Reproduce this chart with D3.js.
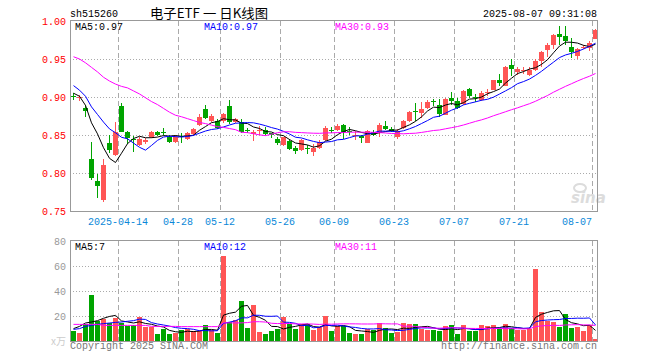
<!DOCTYPE html>
<html><head><meta charset="utf-8">
<script src="https://cdn.jsdelivr.net/npm/d3@7/dist/d3.min.js"></script>
<style>
html,body{margin:0;padding:0;background:#fff;}
svg{display:block;}
text{font-family:"Liberation Mono",monospace;}
</style></head>
<body>
<svg id="c" width="660" height="360"></svg>
<script>
// ---------- DATA ----------
const code = "sh515260";
const title = "电子ETF 一 日K线图";
const stamp = "2025-08-07 09:31:08";
const dates = ["04-01","04-02","04-03","04-07","04-08","04-09","04-10","04-11","04-14","04-15","04-16","04-17","04-18","04-21","04-22","04-23","04-24","04-25","04-28","04-29","04-30",
"05-06","05-07","05-08","05-09","05-12","05-13","05-14","05-15","05-16","05-19","05-20","05-21","05-22","05-23","05-26","05-27","05-28","05-29","05-30",
"06-03","06-04","06-05","06-06","06-09","06-10","06-11","06-12","06-13","06-16","06-17","06-18","06-19","06-20","06-23","06-24","06-25","06-26","06-27","06-30",
"07-01","07-02","07-03","07-04","07-07","07-08","07-09","07-10","07-11","07-14","07-15","07-16","07-17","07-18","07-21","07-22","07-23","07-24","07-25","07-28","07-29","07-30","07-31",
"08-01","08-04","08-05","08-06","08-07"];
const open  = [0.9012,0.8985,0.8850,0.8190,0.7900,0.7650,0.8395,0.8240,0.8888,0.8545,0.8442,0.8373,0.8412,0.8470,0.8544,0.8542,0.8480,0.8410,0.8492,0.8447,0.8510,0.8630,0.8840,0.8690,0.8690,0.8690,0.8886,0.8670,0.8667,0.8572,
0.8518,0.8568,0.8570,0.8526,0.8452,0.8373,0.8425,0.8330,0.8307,0.8332,0.8270,0.8330,0.8430,0.8572,0.8570,0.8636,0.8552,0.8502,0.8482,0.8395,0.8535,0.8526,0.8623,0.8580,0.8474,
0.8592,0.8680,0.8812,0.8790,0.8855,0.8950,0.8900,0.8768,0.8982,0.8943,0.8912,0.9105,0.9002,0.8965,0.9064,0.9096,0.9220,0.9150,0.9417,0.9330,0.9348,0.9294,0.9360,0.9470,0.9623,0.9680,
0.9825,0.9800,0.9660,0.9540,0.9658,0.9645,0.9768];
const close = [0.9008,0.9000,0.8810,0.7930,0.7825,0.8100,0.8300,0.8535,0.8540,0.8455,0.8438,0.8447,0.8439,0.8544,0.8496,0.8538,0.8410,0.8480,0.8488,0.8526,0.8580,0.8737,0.8724,0.8746,0.8596,0.8770,0.8670,0.8710,0.8535,0.8568,
0.8544,0.8572,0.8513,0.8500,0.8395,0.8474,0.8320,0.8285,0.8439,0.8328,0.8330,0.8408,0.8592,0.8568,0.8623,0.8535,0.8548,0.8506,0.8456,0.8548,0.8504,0.8636,0.8580,0.8548,0.8555,
0.8680,0.8807,0.8808,0.8842,0.8940,0.8935,0.8780,0.8974,0.8943,0.8855,0.9075,0.9017,0.8998,0.9053,0.9068,0.9220,0.9184,0.9390,0.9373,0.9373,0.9352,0.9350,0.9478,0.9592,0.9680,0.9811,
0.9790,0.9732,0.9588,0.9627,0.9662,0.9710,0.9886];
const high  = [0.9050,0.9020,0.8890,0.8410,0.7990,0.8180,0.8505,0.8665,0.8915,0.8555,0.8490,0.8470,0.8455,0.8550,0.8553,0.8590,0.8500,0.8500,0.8520,0.8545,0.8596,0.8770,0.8890,0.8770,0.8708,0.8790,0.8956,0.8725,0.8710,0.8595,
0.8560,0.8614,0.8600,0.8530,0.8480,0.8480,0.8447,0.8352,0.8450,0.8370,0.8380,0.8430,0.8614,0.8610,0.8645,0.8648,0.8610,0.8550,0.8500,0.8570,0.8570,0.8658,0.8680,0.8606,0.8575,
0.8693,0.8811,0.8920,0.8930,0.8965,0.8980,0.8975,0.8983,0.9061,0.8982,0.9097,0.9123,0.9044,0.9083,0.9110,0.9228,0.9307,0.9403,0.9500,0.9400,0.9400,0.9400,0.9500,0.9610,0.9710,0.9825,
0.9930,0.9930,0.9776,0.9640,0.9690,0.9740,0.9890];
const low   = [0.8960,0.8950,0.8740,0.7910,0.7670,0.7615,0.8260,0.8225,0.8535,0.8385,0.8270,0.8360,0.8377,0.8460,0.8483,0.8500,0.8400,0.8400,0.8400,0.8430,0.8500,0.8614,0.8710,0.8675,0.8580,0.8660,0.8650,0.8655,0.8525,0.8530,
0.8420,0.8500,0.8500,0.8460,0.8370,0.8360,0.8300,0.8254,0.8290,0.8254,0.8220,0.8310,0.8420,0.8530,0.8555,0.8447,0.8505,0.8440,0.8395,0.8390,0.8487,0.8474,0.8570,0.8540,0.8450,
0.8585,0.8667,0.8680,0.8720,0.8842,0.8886,0.8737,0.8760,0.8895,0.8842,0.8900,0.8987,0.8940,0.8943,0.9010,0.9088,0.9140,0.9145,0.9280,0.9285,0.9307,0.9280,0.9340,0.9400,0.9530,0.9636,
0.9680,0.9685,0.9510,0.9505,0.9630,0.9600,0.9765];
const volume = [8,6.8,13.9,36.5,16.3,17.3,14.2,18.1,14.4,12.2,13.2,18.9,11.5,11,5.3,9.3,5.3,6.2,8.5,9.9,7.7,7.7,12.5,8.5,6.7,68,15.2,17,32,10.1,
28.5,6.9,5.3,7.7,9.3,18.9,13.3,9.3,13.3,13.3,8.5,10.9,20,7.7,11.7,11.7,6.1,5.3,5.3,9.3,8.5,14.1,10.1,6.1,6.9,
14.1,13.3,13.3,9.3,8.5,8.5,7.7,11.7,12.5,5.3,12.5,7.7,7.7,12.5,11.7,12.5,9.3,13.3,10.1,8.5,8.5,9.9,57.3,22.9,15.7,14.9,
10.9,21.6,10.1,10.9,7.7,12.5,1.3];
// moving-average values before a full window exists
const priceMa5Lead  = [0.905,0.901,0.889,0.866];
const priceMa10Lead = [0.915,0.909,0.901,0.887,0.877,0.867,0.858,0.853,0.847];
const priceMa30Lead = [0.953,0.950,0.945,0.939,0.933,0.926,0.921,0.917,0.914,0.912,0.908,0.904,0.899,0.894,0.890,0.885,0.880,0.876,0.874,0.8715,0.869,0.8665,0.865,0.863,0.861,0.860,0.8585,0.857,0.8535];
const volMa5Lead  = [9.9,11.7,14.4,15.2];
const volMa10Lead = [9.3,9.9,11.7,12.5,13.3,13.9,14.4,14.9,15.2];
const volMa30Lead = [13.3,13.3,13.3,13.3,13.3,12.5,12.5,12.5,12.5,12.5,12.5,12.5,12.5,11.7,11.7,11.7,11.7,11.7,11.5,11.5,11.5,11.5,11.5,11.5,11.5,14.5,14.5,14.5,14.5];
const priceLegend = ["MA5:0.97","MA10:0.97","MA30:0.93"];
const volLegend   = ["MA5:7","MA10:12","MA30:11"];
const priceTicks = [1.00,0.95,0.90,0.85,0.80,0.75];
const volTicks = [80,60,40,20];
const tickDates  = ["04-14","04-28","05-12","05-26","06-09","06-23","07-07","07-21","08-07"];
const tickLabels = ["2025-04-14","04-28","05-12","05-26","06-09","06-23","07-07","07-21","08-07"];

// ---------- CHART ----------
const RED="#ff5555", GREEN="#00a400", GRID="#aaaaaa", BORDER="#999999";
const svg = d3.select("#c");
const L=70, R=598;
const x = d3.scaleLinear().domain([0, dates.length]).range([L, R]);
const yP = d3.scaleLinear().domain([0.75, 1.00]).range([211, 21]);
const yV = d3.scaleLinear().domain([0, 80]).range([341, 241]);

function ma(arr, n, lead){ return arr.map((_, i) => i < n-1 ? lead[i] : d3.mean(arr.slice(i-n+1, i+1))); }
const idx = d3.range(dates.length);
const up = i => close[i] >= open[i];

// titles
svg.append("text").attr("x",70).attr("y",17).attr("font-size",10).attr("fill","#000").text(code);
svg.append("text").attr("x",150).attr("y",18).attr("font-size",13).attr("fill","#000")
  .style("font-family","'Noto Sans CJK SC',sans-serif").attr("textLength",118).attr("lengthAdjust","spacingAndGlyphs").text(title);
svg.append("text").attr("x",597).attr("y",17).attr("text-anchor","end").attr("font-size",10).attr("fill","#000").text(stamp);

// grids
function panel(yS, ticks, top, bottom){
  const g = svg.append("g");
  g.selectAll("line.h").data(ticks.slice(1, ticks.length-1)).join("line")
    .attr("x1",L).attr("x2",R-1).attr("y1",d=>Math.round(yS(d))+0.5).attr("y2",d=>Math.round(yS(d))+0.5)
    .attr("stroke",GRID).attr("stroke-dasharray","1,2").attr("shape-rendering","crispEdges");
  g.selectAll("line.v").data(tickDates).join("line")
    .attr("x1",d=>x(dates.indexOf(d))+0.5).attr("x2",d=>x(dates.indexOf(d))+0.5)
    .attr("y1",top).attr("y2",bottom)
    .attr("stroke",GRID).attr("stroke-dasharray","5,3").attr("shape-rendering","crispEdges");
  return g;
}
panel(yP, priceTicks, 21, 211);
panel(yV, [80].concat(volTicks.slice(1)).concat([0]), 241, 341);

// watermark
const wm = svg.append("g").attr("fill","#dcdcdc");
wm.append("text").attr("x",571).attr("y",203).attr("font-size",15).attr("font-style","italic").attr("font-weight","bold")
  .style("font-family","'DejaVu Sans',sans-serif").text("sina");
wm.append("ellipse").attr("cx",580).attr("cy",188).attr("rx",6).attr("ry",4).attr("fill","none").attr("stroke","#dcdcdc").attr("stroke-width",2);

// candles
const cg = svg.append("g").attr("shape-rendering","crispEdges");
cg.selectAll("line").data(idx).join("line")
  .attr("x1",i=>x(i)+3.5).attr("x2",i=>x(i)+3.5)
  .attr("y1",i=>yP(high[i])).attr("y2",i=>yP(low[i]))
  .attr("stroke",i=>up(i)?RED:GREEN);
cg.selectAll("rect").data(idx).join("rect")
  .attr("x",i=>x(i)+1).attr("width",5)
  .attr("y",i=>yP(Math.max(open[i],close[i])))
  .attr("height",i=>Math.max(1, yP(Math.min(open[i],close[i])) - yP(Math.max(open[i],close[i]))))
  .attr("fill",i=>up(i)?RED:GREEN);

// price MAs
const line = (yS) => d3.line().x((d,i)=>x(i)+3.5).y(d=>yS(d));
[[ma(close,5,priceMa5Lead),"#000"],[ma(close,10,priceMa10Lead),"#0000ff"],[ma(close,30,priceMa30Lead),"#ff00ff"]]
 .forEach(([arr,c])=> svg.append("path").attr("d",line(yP)(arr)).attr("fill","none").attr("stroke",c).attr("stroke-width",1));

// volume bars
svg.append("g").attr("shape-rendering","crispEdges").selectAll("rect").data(idx).join("rect")
  .attr("x",i=>x(i)+1).attr("width",5)
  .attr("y",i=>yV(volume[i])).attr("height",i=>yV(0)-yV(volume[i]))
  .attr("fill",i=>up(i)?RED:GREEN);
[[ma(volume,5,volMa5Lead),"#000"],[ma(volume,10,volMa10Lead),"#0000ff"],[ma(volume,30,volMa30Lead),"#ff00ff"]]
 .forEach(([arr,c])=> svg.append("path").attr("d",line(yV)(arr)).attr("fill","none").attr("stroke",c).attr("stroke-width",1));

// borders
svg.append("rect").attr("x",70.5).attr("y",20.5).attr("width",527).attr("height",191).attr("fill","none").attr("stroke",BORDER);
svg.append("rect").attr("x",70.5).attr("y",240.5).attr("width",527).attr("height",101).attr("fill","none").attr("stroke",BORDER);

// axis labels
svg.selectAll("text.pt").data(priceTicks).join("text").attr("class","pt")
  .attr("x",66).attr("y",d=>yP(d)+3.5).attr("text-anchor","end").attr("font-size",10).attr("fill","#ff0000")
  .text(d=>d3.format(".2f")(d));
svg.selectAll("text.vt").data(volTicks).join("text").attr("class","vt")
  .attr("x",66).attr("y",d=>yV(d)+3.5).attr("text-anchor","end").attr("font-size",10).attr("fill","#999")
  .text(d=>d);
svg.append("text").attr("x",66).attr("y",345).attr("text-anchor","end").attr("font-size",10).attr("fill","#ccc")
  .style("font-family","'Noto Sans CJK SC',sans-serif").text("x万");
svg.selectAll("text.xt").data(tickDates).join("text").attr("class","xt")
  .attr("x",(d,k)=>x(dates.indexOf(d)))
  .attr("y",225)
  .attr("text-anchor",(d,k)=> k===tickDates.length-1 ? "end" : "middle")
  .attr("font-size",10).attr("fill","#0a88d8")
  .text((d,k)=>tickLabels[k]);

// legends
const legX=[75,204,335], legC=["#000","#0000ff","#ff00ff"];
priceLegend.forEach((t,k)=>svg.append("text").attr("x",legX[k]).attr("y",30).attr("font-size",10).attr("fill",legC[k]).text(t));
volLegend.forEach((t,k)=>svg.append("text").attr("x",legX[k]).attr("y",250).attr("font-size",10).attr("fill",legC[k]).text(t));

// footer
svg.append("text").attr("x",70).attr("y",349).attr("font-size",10).attr("fill","#777").text("Copyright 2025 SINA.COM");
svg.append("text").attr("x",597).attr("y",349).attr("text-anchor","end").attr("font-size",10).attr("fill","#777").text("http://finance.sina.com.cn");
</script>
</body></html>
